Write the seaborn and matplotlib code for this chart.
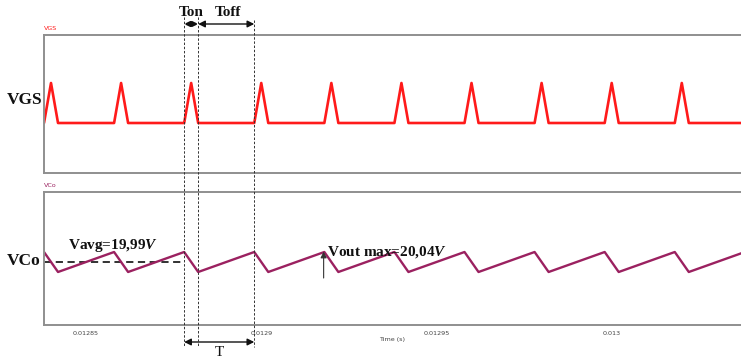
import matplotlib
matplotlib.use("Agg")
import matplotlib.pyplot as plt
from matplotlib.lines import Line2D
from matplotlib.patches import FancyArrowPatch
from matplotlib.transforms import blended_transform_factory
from matplotlib.ticker import FixedLocator, FixedFormatter
import pandas as pd
import seaborn as sns

# --- switching data -------------------------------------------------------
t_on = [0.012838, 0.012858, 0.012878, 0.012898, 0.012918, 0.012938,
        0.012958, 0.012978, 0.012998, 0.013018, 0.013038]   # gate turn-on instants (s)
t_conduction = 4e-6                                        # Ton (s)
vgs_low, vgs_high = 0.0, 15.0                              # gate drive levels (V)
vco_max, vco_min = 20.04, 19.94                            # output ripple extremes (V)
v_avg = 19.99                                              # mean output voltage (V)

tick_vals = [0.01285, 0.0129, 0.01295, 0.013]
tick_labels = ["0.01285", "0.0129", "0.01295", "0.013"]

# piecewise-linear waveforms from the switching instants
vgs_t, vgs_v, vco_t, vco_v = [], [], [], []
for s in t_on:
    vgs_t += [s, s + t_conduction / 2, s + t_conduction]
    vgs_v += [vgs_low, vgs_high, vgs_low]
    vco_t += [s, s + t_conduction]
    vco_v += [vco_max, vco_min]
vgs_df = pd.DataFrame({"t": vgs_t, "v": vgs_v})
vco_df = pd.DataFrame({"t": vco_t, "v": vco_v})

# --- figure ---------------------------------------------------------------
sns.set_theme(style="white")
plt.rcParams["mathtext.fontset"] = "custom"
plt.rcParams["mathtext.it"] = "Liberation Serif:bold:italic"
plt.rcParams["mathtext.rm"] = "Liberation Serif:bold"

W, H = 741, 358
fig = plt.figure(figsize=(W / 100, H / 100), dpi=100)
ax1 = fig.add_axes([44 / W, 1 - 173 / H, (W - 44) / W, (173 - 35) / H])
ax2 = fig.add_axes([44 / W, 1 - 325 / H, (W - 44) / W, (325 - 192) / H])

xlim = (0.012838, 0.0130369)
red = "#ff1a1a"
plum = "#9b2160"
spine_c = "#8f8f8f"

sns.lineplot(data=vgs_df, x="t", y="v", ax=ax1, color=red, lw=1.9, sort=False)
sns.lineplot(data=vco_df, x="t", y="v", ax=ax2, color=plum, lw=1.7, sort=False)

ax1.set_xlim(*xlim)
ax2.set_xlim(*xlim)
ax1.set_ylim(-18.75, 33)
ax2.set_ylim(19.675, 20.34)

for ax in (ax1, ax2):
    ax.set_ylabel("")
    ax.set_yticks([])
    ax.spines["right"].set_visible(False)
    for side in ("left", "top", "bottom"):
        ax.spines[side].set_color(spine_c)
        ax.spines[side].set_linewidth(1.4)
    ax.tick_params(axis="x", length=0)

ax1.set_xticks([])
ax1.set_xlabel("")
ax2.xaxis.set_major_locator(FixedLocator(tick_vals))
ax2.xaxis.set_major_formatter(FixedFormatter(tick_labels))
ax2.tick_params(axis="x", labelsize=4.6, labelcolor="#444444", pad=4)
ax2.set_xlabel("Time (s)", fontsize=4.6, color="#444444", labelpad=1)

# small trace captions above each panel
ax1.annotate("VGS", xy=(0, 1), xycoords="axes fraction", xytext=(0, 3),
             textcoords="offset points", fontsize=4.6, color=red, ha="left", va="bottom")
ax2.annotate("VCo", xy=(0, 1), xycoords="axes fraction", xytext=(0, 3),
             textcoords="offset points", fontsize=4.6, color=plum, ha="left", va="bottom")

serif = dict(family="Liberation Serif", fontweight="bold", color="#111111")
fig.text(7 / W, 1 - 100 / H, "VGS", fontsize=12.5, ha="left", va="center", **serif)
fig.text(7 / W, 1 - 261 / H, "VCo", fontsize=12.5, ha="left", va="center", **serif)

# average level and peak annotation
ax2.plot([xlim[0], t_on[2]], [v_avg, v_avg], color="#222222", lw=1.3,
         ls=(0, (4, 2.5)), zorder=1)
ax2.text(0.0128449, 20.07, "Vavg=19,99$V$", fontsize=11, ha="left", va="center", **serif)
ax2.annotate("", xy=(t_on[4] - 2e-7, vco_max + 0.002), xytext=(t_on[4] - 2e-7, 19.91),
             arrowprops=dict(arrowstyle="-|>", color="#333333", lw=0.8,
                             mutation_scale=9, shrinkA=0, shrinkB=0))
ax2.text(0.0129189, 20.04, "Vout max=20,04$V$", fontsize=11, ha="left", va="center", **serif)

# period markers spanning both panels
bt = blended_transform_factory(ax1.transData, fig.transFigure)
t_a, t_b, t_c = t_on[2], t_on[2] + t_conduction, t_on[3]
for t, y_top in ((t_a, 1 - 17 / H), (t_b, 1 - 17 / H), (t_c, 1 - 20 / H)):
    fig.add_artist(Line2D([t, t], [y_top, 1 - 347 / H], transform=bt, color="#333333",
                          lw=0.7, ls=(0, (2.5, 1.8)), clip_on=False))

arrow_kw = dict(arrowstyle="<|-|>", color="#111111", lw=1.0, mutation_scale=10,
                shrinkA=0, shrinkB=0)
y_top_arrow = 1 - 24 / H
fig.add_artist(FancyArrowPatch((t_a, y_top_arrow), (t_b, y_top_arrow), transform=bt,
                               **dict(arrow_kw, mutation_scale=7, lw=1.6)))
fig.add_artist(FancyArrowPatch((t_b, y_top_arrow), (t_c, y_top_arrow), transform=bt,
                               **arrow_kw))
y_t_arrow = 1 - 342 / H
fig.add_artist(FancyArrowPatch((t_a, y_t_arrow), (t_c, y_t_arrow), transform=bt,
                               **arrow_kw))

fig.text((t_a + t_b) / 2, 1 - 12 / H, "Ton", transform=bt, fontsize=11, ha="center",
         va="center", **serif)
fig.text(0.0128906, 1 - 12 / H, "Toff", transform=bt, fontsize=11, ha="center",
         va="center", **serif)
fig.text((t_a + t_c) / 2, 1 - 352 / H, "T", transform=bt, fontsize=11, ha="center",
         va="center", family="Liberation Serif", color="#111111")

fig.savefig("out.png", dpi=100)
